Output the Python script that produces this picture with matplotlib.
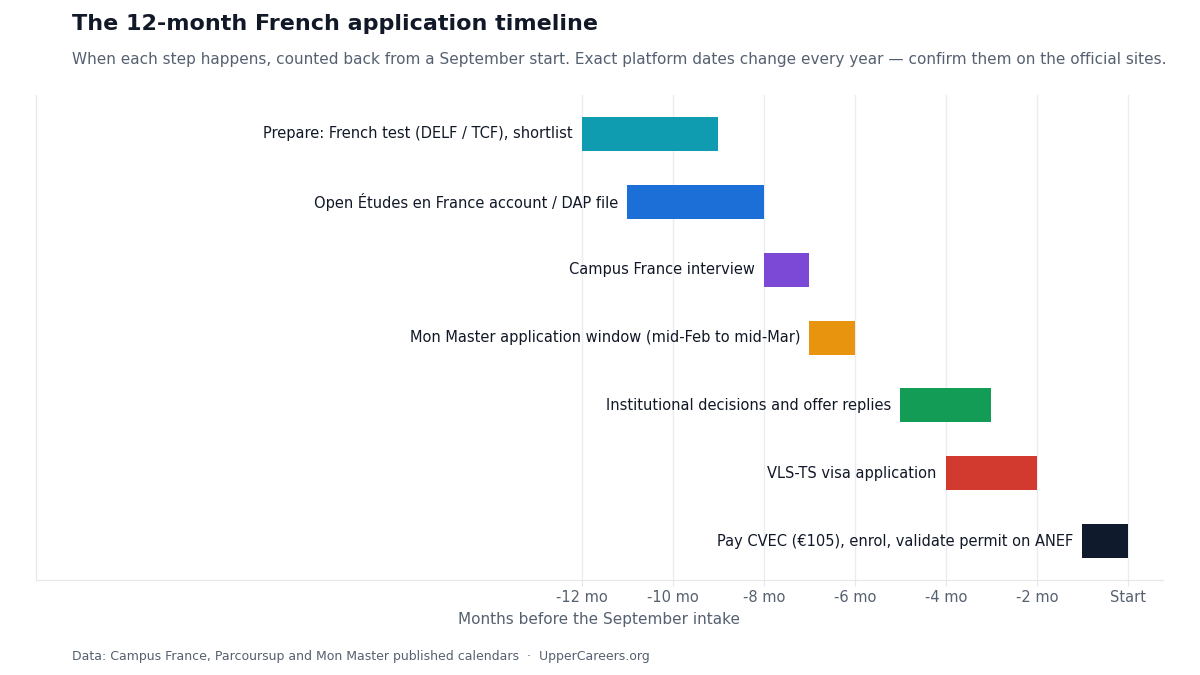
import matplotlib
matplotlib.use("Agg")
import matplotlib.pyplot as plt

steps = [
    "Prepare: French test (DELF / TCF), shortlist",
    "Open Études en France account / DAP file",
    "Campus France interview",
    "Mon Master application window (mid-Feb to mid-Mar)",
    "Institutional decisions and offer replies",
    "VLS-TS visa application",
    "Pay CVEC (€105), enrol, validate permit on ANEF",
]
starts = [-12, -11, -8, -7, -5, -4, -1]
ends = [-9, -8, -7, -6, -3, -2, 0]
colors = ["#0f9bb0", "#1d6fd8", "#7b49d5", "#e8940e", "#139c55", "#d33a2f", "#0f1a2d"]
tick_vals = [-12, -10, -8, -6, -4, -2, 0]
tick_labels = ["-12 mo", "-10 mo", "-8 mo", "-6 mo", "-4 mo", "-2 mo", "Start"]

plt.rcParams['font.family'] = ['DejaVu Sans']
fig = plt.figure(figsize=(12, 6.75), dpi=100)
ax = fig.add_axes([0.03, 0.1407, 0.939, 0.7185])

ys = list(range(len(steps)))
for y, s, e, c, lab in zip(ys, starts, ends, colors, steps):
    ax.barh(y, e - s, left=s, height=0.5, color=c, zorder=3)
    ax.text(s - 0.2, y, lab, ha="right", va="center", fontsize=10.5, color="#111827", zorder=4)

ax.set_xlim(-24, 0.77)
ax.set_ylim(len(steps) - 0.43, -0.57)
ax.set_yticks([])
ax.set_xticks(tick_vals)
ax.set_xticklabels(tick_labels)
ax.tick_params(axis="x", colors="#e5e7eb", labelcolor="#556070", labelsize=10.5, length=4, pad=3)
ax.grid(axis="x", color="#ebebf3", linewidth=1, zorder=0)
for sp in ["top", "right"]:
    ax.spines[sp].set_visible(False)
for sp in ["left", "bottom"]:
    ax.spines[sp].set_color("#e5e7eb")
ax.set_xlabel("Months before the September intake", fontsize=11, color="#556070", labelpad=5)

fig.text(0.06, 0.965, "The 12-month French application timeline", fontsize=16, fontweight="bold",
         color="#111827", va="center", ha="left")
fig.text(0.06, 0.912, "When each step happens, counted back from a September start. Exact platform dates change every year — confirm them on the official sites.",
         fontsize=11, color="#556070", va="center", ha="left")
fig.text(0.06, 0.027, "Data: Campus France, Parcoursup and Mon Master published calendars  ·  UpperCareers.org",
         fontsize=9, color="#556070", va="center", ha="left")

fig.savefig("out.png", dpi=100, facecolor="white")
